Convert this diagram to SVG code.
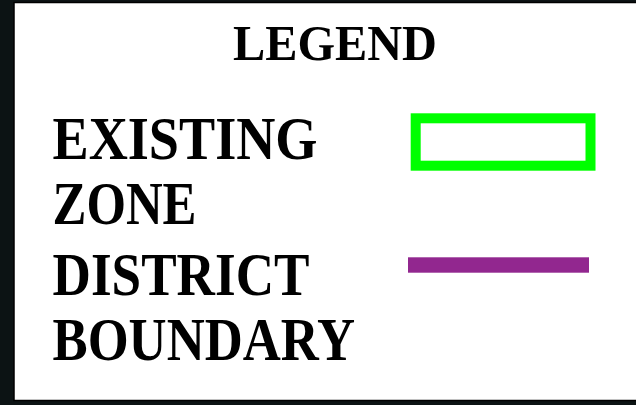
<svg xmlns="http://www.w3.org/2000/svg" width="636" height="405" viewBox="0 0 636 405">
<style>
.t{font-family:"Liberation Serif","Times New Roman",serif;font-weight:bold;fill:#000}
</style>
<rect x="0" y="0" width="636" height="405" fill="#0c1314"/>
<rect x="14" y="2.5" width="624" height="398" fill="#fff" stroke="#000" stroke-width="1.5"/>
<g id="title"><text class="t" x="233" y="59.5" font-size="50" textLength="204" lengthAdjust="spacingAndGlyphs">LEGEND</text></g>
<g id="existing-zone">
<text class="t" x="52.5" y="158.5" font-size="61" textLength="265" lengthAdjust="spacingAndGlyphs">EXISTING</text>
<text class="t" x="52.5" y="223.5" font-size="61" textLength="144" lengthAdjust="spacingAndGlyphs">ZONE</text>
<rect x="415.7" y="118.3" width="174.8" height="47.4" fill="none" stroke="#00ff00" stroke-width="10"/>
</g>
<g id="district-boundary">
<text class="t" x="52.5" y="295" font-size="61" textLength="257" lengthAdjust="spacingAndGlyphs">DISTRICT</text>
<text class="t" x="52.5" y="359.5" font-size="61" textLength="302.5" lengthAdjust="spacingAndGlyphs">BOUNDARY</text>
<rect x="408" y="257.3" width="181" height="15.4" fill="#92278f"/>
</g>
<g id="connectors"/>
</svg>
